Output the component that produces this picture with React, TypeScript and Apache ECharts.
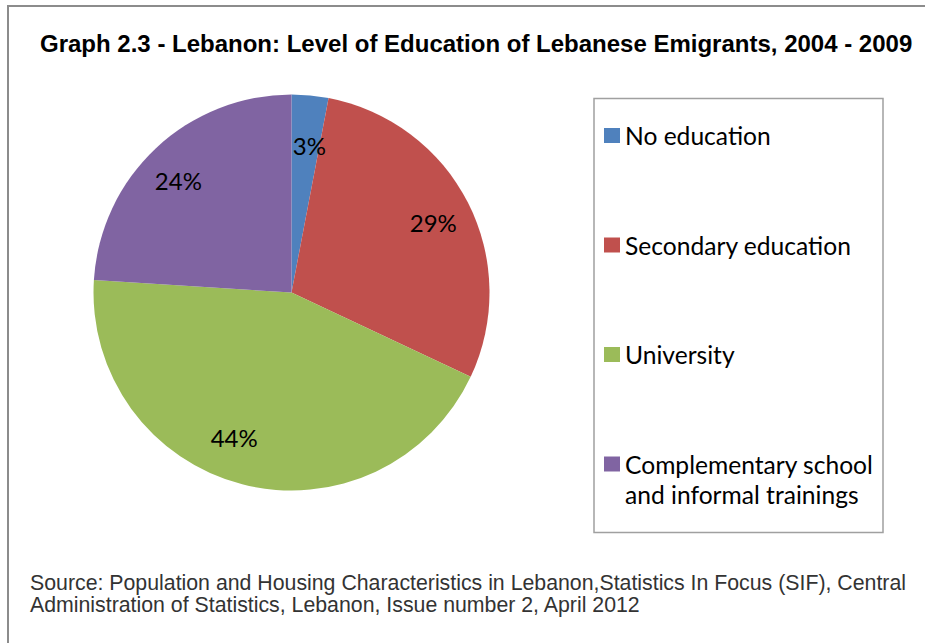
import React, { useEffect, useRef } from "react";
import * as echarts from "echarts";

const titleText = "Graph 2.3 - Lebanon: Level of Education of Lebanese Emigrants, 2004 - 2009";
const sourceLines = [
  "Source: Population and Housing Characteristics in Lebanon,Statistics In Focus (SIF), Central",
  "Administration of Statistics, Lebanon, Issue number 2, April 2012",
];
const categories = [
  "No education",
  "Secondary education",
  "University",
  "Complementary school and informal trainings",
];
const legendLabels = [
  "No education",
  "Secondary education",
  "University",
  "Complementary school\nand informal trainings",
];
const values = [3, 29, 44, 24];
const colors = ["#4F81BD", "#C0504D", "#9BBB59", "#8064A2"];

// small label nudges (px) mimicking the original "best fit" placement
const labelNudges = [
  [3, 10],
  [1, 2],
  [-18, -8],
  [-5, 3],
];

export default function App() {
  const ref = useRef<HTMLDivElement>(null);
  useEffect(() => {
    if (!ref.current) return;
    const chart = echarts.init(ref.current, null, { renderer: "svg" });
    const data = categories.map((name, i) => ({
      name,
      value: values[i],
      itemStyle: { color: colors[i] },
    }));
    const labelData = categories.map((name, i) => ({ name, value: values[i] }));
    chart.setOption({
      animation: false,
      backgroundColor: "#ffffff",
      legend: {
        orient: "vertical",
        left: 604,
        top: 90.5,
        padding: 0,
        itemWidth: 16,
        itemHeight: 15,
        itemGap: 19.5,
        icon: "rect",
        selectedMode: false,
        data: categories.map((name, i) => ({ name, itemStyle: { color: colors[i] } })),
        formatter: (name: string) => {
          const t = legendLabels[categories.indexOf(name)];
          return t.indexOf("\n") >= 0 ? "\n" + t : "\n" + t + "\n";
        },
        textStyle: {
          fontFamily: "Lato",
          fontSize: 24.6,
          lineHeight: 30,
          color: "#000000",
        },
      },
      graphic: [
        {
          type: "polyline",
          silent: true,
          shape: { points: [[8, 660], [8, 6], [940, 6]] },
          style: { stroke: "#8c8c8c", lineWidth: 2, fill: null },
        },
        {
          type: "rect",
          silent: true,
          shape: { x: 594, y: 98.5, width: 289, height: 434 },
          style: { stroke: "#a0a0a0", lineWidth: 1.5, fill: null },
        },
        {
          type: "text",
          silent: true,
          x: 40,
          y: 43,
          style: {
            text: titleText,
            font: "bold 24px 'Liberation Sans', Arial, sans-serif",
            fill: "#000000",
            verticalAlign: "middle",
            align: "left",
          },
        },
        ...sourceLines.map((t, i) => ({
          type: "text",
          silent: true,
          x: 30,
          y: 582.5 + i * 22,
          style: {
            text: t,
            font: "21.3px 'Liberation Sans', Arial, sans-serif",
            fill: "#333333",
            verticalAlign: "middle",
            align: "left",
          },
        })),
      ],
      series: [
        {
          type: "pie",
          center: [291.5, 292.5],
          radius: 198,
          startAngle: 90,
          clockwise: true,
          label: { show: false },
          labelLine: { show: false },
          itemStyle: { borderWidth: 0 },
          emphasis: { disabled: true },
          data,
        },
        {
          type: "pie",
          center: [291.5, 292.5],
          radius: [112, 198],
          startAngle: 90,
          clockwise: true,
          silent: true,
          legendHoverLink: false,
          itemStyle: { color: "rgba(0,0,0,0)", borderWidth: 0 },
          emphasis: { disabled: true },
          label: {
            show: true,
            position: "inside",
            color: "#000000",
            fontFamily: "Lato",
            fontSize: 24,
            formatter: (p: any) => Math.round(p.percent) + "%",
          },
          labelLayout: (p: any) => {
            const n = labelNudges[p.dataIndex] || [0, 0];
            return { dx: n[0], dy: n[1] };
          },
          labelLine: { show: false },
          data: labelData,
        },
      ],
    });
    return () => chart.dispose();
  }, []);
  return (
    <div
      ref={ref}
      style={{ position: "fixed", left: 0, top: 0, width: 925, height: 643 }}
    />
  );
}
